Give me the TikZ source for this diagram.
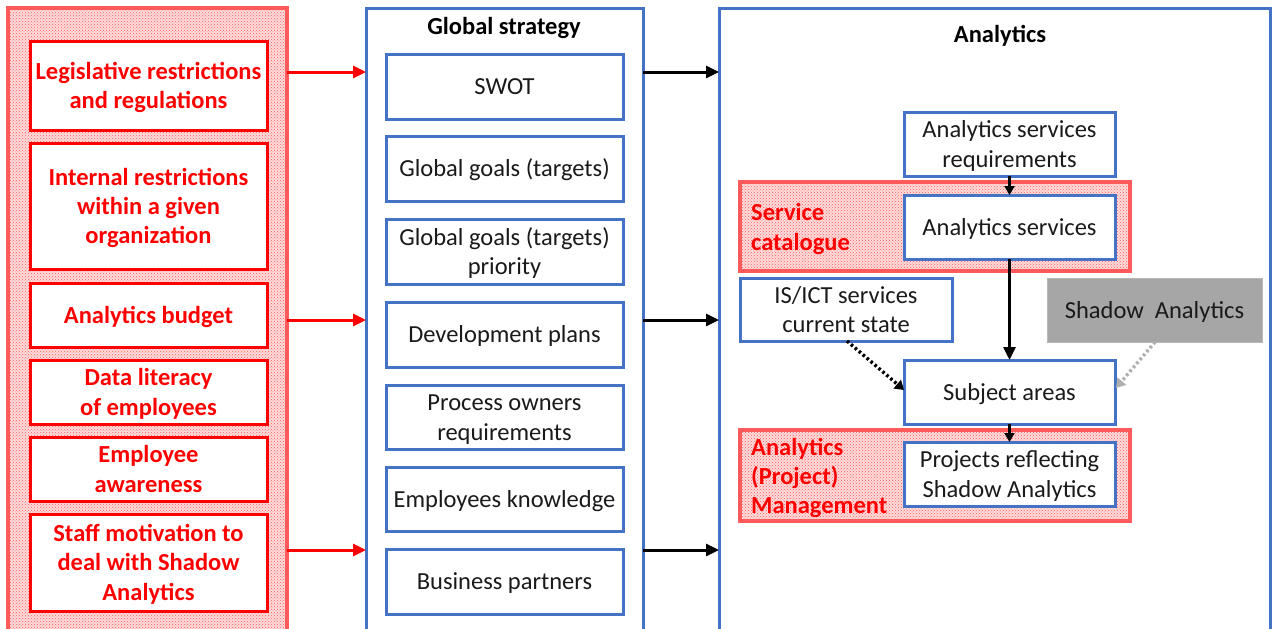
\documentclass[tikz,border=0pt]{standalone}
\usepackage{fontspec}
\setmainfont{Carlito}
\usetikzlibrary{arrows.meta,patterns,calc}
\definecolor{bblue}{HTML}{4472C4}
\definecolor{pred}{HTML}{FF5B5B}
\definecolor{sgray}{HTML}{A6A6A6}
\definecolor{tblack}{HTML}{1A1A1A}
\newcommand\mtc[1]{\setbox\strutbox\hbox{\vrule width0pt height23.05pt depth6.25pt}\begin{tabular}{@{}c@{}}#1\end{tabular}}
\newcommand\mtl[1]{\setbox\strutbox\hbox{\vrule width0pt height23.05pt depth6.25pt}\begin{tabular}{@{}l@{}}#1\end{tabular}}
\newcommand\mybox[7]{\node[#2, minimum width={#5-#3}, minimum height={#6-#4}] (#1) at ({(#3+#5)/2},{(#4+#6)/2}) {\mtc{#7}};}
\tikzset{
  base/.style={inner sep=0pt, outer sep=0pt, font=\fontsize{24.5}{29.3}\selectfont},
  redbox/.style={base, draw=red, line width=3pt, fill=white, text=red, font=\fontsize{24.5}{29.3}\selectfont\bfseries},
  bluebox/.style={base, draw=bblue, line width=3pt, fill=white, text=tblack},
  hatched/.style={base, draw=pred, line width=3.2pt, fill=red!14, postaction={pattern=crosshatch dots, pattern color=red!65}},
  panel/.style={base, draw=bblue, line width=3pt, fill=white},
  graybox/.style={base, fill=sgray, draw=sgray!80, line width=0.8pt, text=tblack},
  redlabel/.style={inner sep=0pt, text=red, font=\fontsize{24.5}{29.3}\selectfont\bfseries},
  title/.style={inner sep=0pt, text=black, font=\fontsize{24.5}{29}\selectfont\bfseries},
  redarrow/.style={draw=red, line width=3pt, -{Triangle[length=13pt,width=12pt]}},
  blackarrow/.style={draw=black, line width=3pt, -{Triangle[length=13pt,width=12pt]}},
  shortarrow/.style={draw=black, line width=3pt, -{Triangle[length=9pt,width=10pt]}},
  dotarrow/.style={draw=black, line width=3.4pt, dash pattern=on 2.6pt off 2.6pt, -{Triangle[length=9pt,width=11pt]}},
  grayarrow/.style={draw=sgray!90, line width=3.4pt, dash pattern=on 2.6pt off 2.6pt, -{Triangle[length=9pt,width=11pt]}},
}
\begin{document}
\begin{tikzpicture}[x=1pt,y=-1pt]
\useasboundingbox (0,0) rectangle (1278,629);
% panels
\mybox{left}{hatched}{8}{8}{287}{645}{}
\mybox{mid}{panel}{366}{8}{643}{645}{}
\mybox{right}{panel}{719}{8}{1270}{645}{}
\node[title] (gst) at (504,28) {Global strategy};
\node[title] (ant) at (1000,36) {Analytics};
% left boxes
\mybox{leg}{redbox}{30}{41}{267}{130}{Legislative restrictions\\and regulations}
\mybox{intr}{redbox}{30}{143}{267}{269}{Internal restrictions\\within a given\\organization}
\mybox{bud}{redbox}{30}{283}{267}{347}{Analytics budget}
\mybox{lit}{redbox}{30}{360}{267}{424}{Data literacy\\of employees}
\mybox{awa}{redbox}{30}{437}{267}{501}{Employee\\awareness}
\mybox{mot}{redbox}{30}{514}{267}{611}{Staff motivation to\\deal with Shadow\\Analytics}
% middle boxes
\mybox{swot}{bluebox}{386}{54}{623}{119}{SWOT}
\mybox{gg}{bluebox}{386}{136}{623}{201}{Global goals (targets)}
\mybox{ggp}{bluebox}{386}{219}{623}{284}{Global goals (targets)\\priority}
\mybox{dev}{bluebox}{386}{302}{623}{367}{Development plans}
\mybox{pro}{bluebox}{386}{385}{623}{449}{Process owners\\requirements}
\mybox{emp}{bluebox}{386}{467}{623}{531}{Employees knowledge}
\mybox{bus}{bluebox}{386}{549}{623}{614}{Business partners}
% right side
\mybox{sc}{hatched}{740}{182}{1130}{271}{}
\node[redlabel, anchor=west] (scl) at (751,227) {\mtl{Service\\catalogue}};
\mybox{pm}{hatched}{740}{430}{1130}{521}{}
\node[redlabel, anchor=west] (pml) at (751,476) {\mtl{Analytics\\(Project)\\Management}};
\mybox{asr}{bluebox}{904}{112}{1115}{176}{Analytics services\\requirements}
\mybox{as}{bluebox}{904}{195}{1115}{259}{Analytics services}
\mybox{ict}{bluebox}{740}{278}{952}{341}{IS/ICT services\\current state}
\mybox{sha}{graybox}{1047}{278}{1262}{342}{Shadow\ \ Analytics}
\mybox{sub}{bluebox}{904}{360}{1115}{424}{Subject areas}
\mybox{prj}{bluebox}{904}{442}{1115}{506}{Projects reflecting\\Shadow Analytics}
% arrow levels
\coordinate (r1) at (0,72);
\coordinate (r2) at (0,320);
\coordinate (r3) at (0,550);
\foreach \r in {r1,r2,r3}{
  \draw[redarrow] (left.east |- \r) -- (mid.west |- \r);
  \draw[blackarrow] (mid.east |- \r) -- (right.west |- \r);
}
\draw[shortarrow] (asr.south) -- (as.north);
\draw[blackarrow] (as.south) -- (sub.north);
\draw[shortarrow] (sub.south) -- (prj.north);
\coordinate (ictf) at (847,341);
\coordinate (shaf) at (1155,342);
\draw[dotarrow] (ictf) -- ($(sub.west)+(0,-2)$);
\draw[grayarrow] (shaf) -- ($(sub.east)+(1,-4)$);
\end{tikzpicture}
\end{document}
